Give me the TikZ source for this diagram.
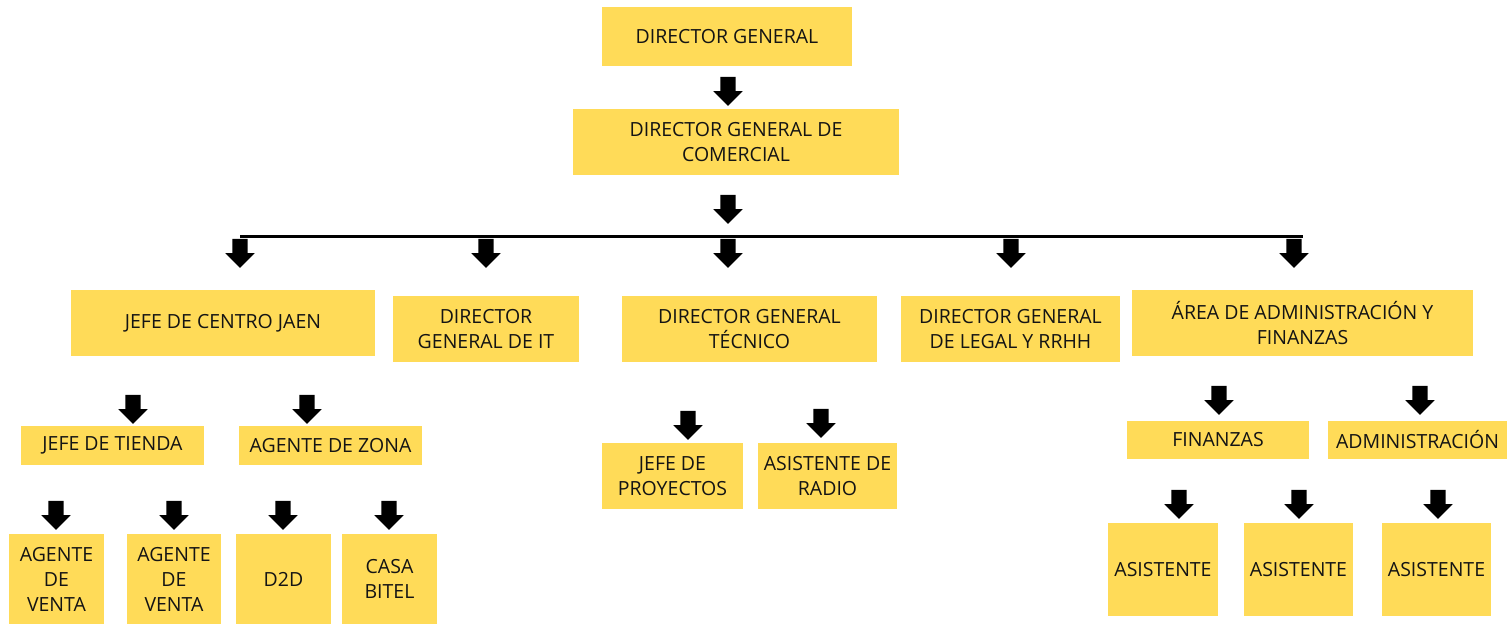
\documentclass[tikz,border=0pt]{standalone}
\usepackage{fontspec}
\setmainfont{Open Sans}
\usepackage{tikz}
\usetikzlibrary{shapes.arrows}
\definecolor{boxyellow}{RGB}{255,219,88}
\definecolor{ink}{RGB}{20,20,20}
\tikzset{
    box/.style={rectangle, fill=boxyellow, draw=none, inner sep=0pt,
    	align=center, text=ink, font=\fontsize{19.5}{25}\selectfont}
}
\tikzset{
    blk/.style={single arrow, shape border rotate=270, fill=black, draw=none,
    	inner sep=7.5pt, minimum height=29pt,
    	single arrow head extend=7pt}
}

\begin{document}
\begin{tikzpicture}[x=1pt, y=-1pt]
  \useasboundingbox (0,0) rectangle (1507,624);

  \node (dg) [box, minimum width=250pt, minimum height=59pt] at (727, 36.5) {DIRECTOR GENERAL};
  \node (dgc) [box, minimum width=326pt, minimum height=66pt] at (736, 142) {DIRECTOR GENERAL DE\\COMERCIAL};

  \node (jcj) [box, minimum width=304pt, minimum height=66pt] at (223, 323) {JEFE DE CENTRO JAEN};
  \node (dgit) [box, minimum width=186pt, minimum height=66pt] at (486, 329) {DIRECTOR\\GENERAL DE IT};
  \node (dgt) [box, minimum width=255pt, minimum height=66pt] at (749.5, 329) {DIRECTOR GENERAL\\TÉCNICO};
  \node (dgl) [box, minimum width=219pt, minimum height=66pt] at (1010.5, 329) {DIRECTOR GENERAL\\DE LEGAL Y RRHH};
  \node (aaf) [box, minimum width=341pt, minimum height=66pt] at (1302.5, 323) {ÁREA DE ADMINISTRACIÓN Y\\FINANZAS};

  \node (jt) [box, minimum width=183pt, minimum height=39pt] at (112.5, 445.5) {JEFE DE TIENDA};
  \node (az) [box, minimum width=183pt, minimum height=39pt] at (330.5, 445.5) {AGENTE DE ZONA};
  \node (av1) [box, minimum width=95pt, minimum height=90pt] at (56.5, 579) {AGENTE\\DE\\VENTA};
  \node (av2) [box, minimum width=94pt, minimum height=90pt] at (174, 579) {AGENTE\\DE\\VENTA};
  \node (d2d) [box, minimum width=95pt, minimum height=90pt] at (283.5, 579) {D2D};
  \node (cb) [box, minimum width=95pt, minimum height=90pt] at (389.5, 579) {CASA\\BITEL};

  \node (jp) [box, minimum width=141pt, minimum height=66pt] at (672.5, 476) {JEFE DE\\PROYECTOS};
  \node (ar) [box, minimum width=139pt, minimum height=66pt] at (827.5, 476) {ASISTENTE DE\\RADIO};

  \node (fin) [box, minimum width=182pt, minimum height=38pt] at (1218, 440) {FINANZAS};
  \node (adm) [box, minimum width=179pt, minimum height=38pt] at (1417.5, 440) {ADMINISTRACIÓN};
  \node (as1) [box, minimum width=110pt, minimum height=93pt] at (1163, 569.5) {ASISTENTE};
  \node (as2) [box, minimum width=109pt, minimum height=93pt] at (1298.5, 569.5) {ASISTENTE};
  \node (as3) [box, minimum width=109pt, minimum height=93pt] at (1436.5, 569.5) {ASISTENTE};

  % bar under the commercial director
  \coordinate (bl) at (240, 236);
  \coordinate (br) at (1303, 236);
  \draw [line width=3pt] (bl) -- (br);

  % block arrows
  \node (a1) [blk] at (728, 87.5) {};
  \node (a2) [blk] at (728, 205.5) {};
  \node (a3) [blk] at (240, 249.5) {};
  \node (a4) [blk] at (486, 249.5) {};
  \node (a5) [blk] at (728, 249.5) {};
  \node (a6) [blk] at (1011, 249.5) {};
  \node (a7) [blk] at (1294, 249.5) {};

  \node (a8) [blk] at (133, 405.5) {};
  \node (a9) [blk] at (307, 405.5) {};
  \node (a10) [blk] at (56, 511.5) {};
  \node (a11) [blk] at (174, 511.5) {};
  \node (a12) [blk] at (283, 511.5) {};
  \node (a13) [blk] at (389, 511.5) {};

  \node (a14) [blk] at (688, 421.5) {};
  \node (a15) [blk] at (821, 419.5) {};

  \node (a16) [blk] at (1219, 396.5) {};
  \node (a17) [blk] at (1420, 396.5) {};
  \node (a18) [blk] at (1179, 500.5) {};
  \node (a19) [blk] at (1299, 500.5) {};
  \node (a20) [blk] at (1438, 500.5) {};
\end{tikzpicture}
\end{document}
